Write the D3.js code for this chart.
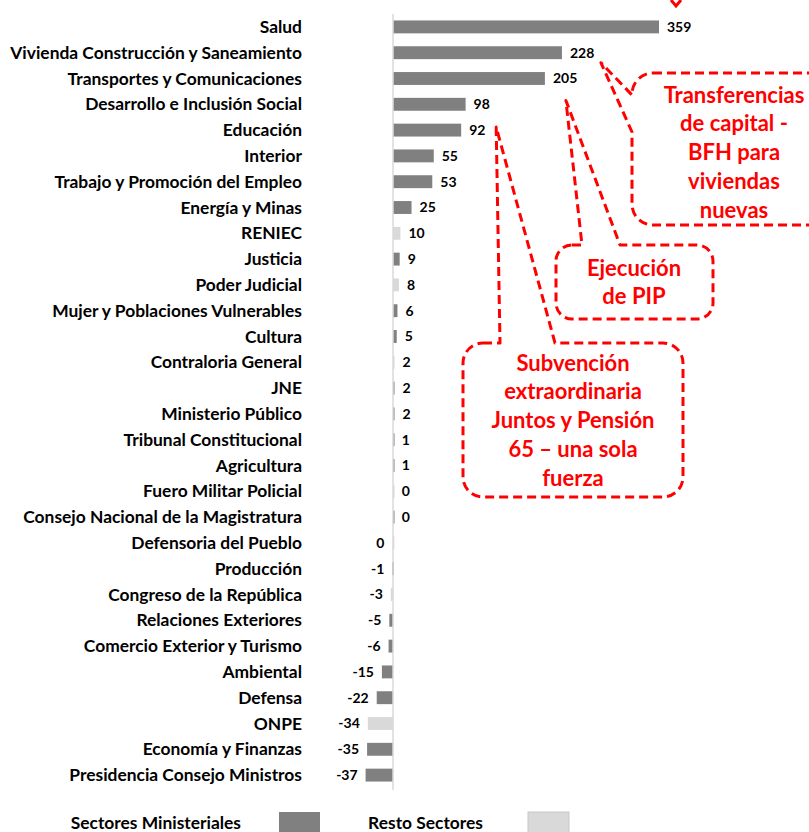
<!DOCTYPE html>
<html>
<head>
<meta charset="utf-8">
<script src="https://cdn.jsdelivr.net/npm/d3@7"></script>
<style>
  body { margin: 0; background: #fff; }
  svg { display: block; font-family: Lato, "Open Sans", sans-serif; }
</style>
</head>
<body>
<svg id="chart" width="809" height="832"></svg>
<script>
// sectores, en el orden del grafico
var sectores = [
  "Salud", "Vivienda Construcción y Saneamiento", "Transportes y Comunicaciones",
  "Desarrollo e Inclusión Social", "Educación", "Interior",
  "Trabajo y Promoción del Empleo", "Energía y Minas", "RENIEC", "Justicia",
  "Poder Judicial", "Mujer y Poblaciones Vulnerables", "Cultura",
  "Contraloria General", "JNE", "Ministerio Público", "Tribunal Constitucional",
  "Agricultura", "Fuero Militar Policial", "Consejo Nacional de la Magistratura",
  "Defensoria del Pueblo", "Producción", "Congreso de la República",
  "Relaciones Exteriores", "Comercio Exterior y Turismo", "Ambiental", "Defensa",
  "ONPE", "Economía y Finanzas", "Presidencia Consejo Ministros"];

// variacion (millones de soles)
var valores = [359, 228, 205, 98, 92, 55, 53, 25, 10, 9, 8, 6, 5, 2, 2, 2, 1, 1,
  0.4, 0.4, -0.3, -1, -3, -5, -6, -15, -22, -34, -35, -37];

// M = sector ministerial, R = resto de sectores
var tipos = ["M","M","M","M","M","M","M","M","R","M","R","M","M","R","M","M","M","M",
  "R","M","R","M","R","M","M","M","M","R","M","M"];

var leyenda = ["Sectores Ministeriales", "Resto Sectores"];

var colores = {M: "#808080", R: "#d9d9d9"};
var rojo = "#ff0000";

var data = sectores.map(function(s, i){
  return {name: s, value: valores[i], tipo: tipos[i]};
});

var svg = d3.select("#chart");

var x = d3.scaleLinear()
    .domain([-37, 359])
    .range([365.6, 659]);

var y = d3.scaleBand()
    .domain(sectores)
    .range([14, 788])
    .paddingInner(0.5)
    .paddingOuter(0.25);

// barras
svg.selectAll(".bar")
  .data(data)
 .enter().append("rect")
  .attr("class", "bar")
  .attr("x", d => x(Math.min(0, d.value)))
  .attr("y", d => y(d.name))
  .attr("width", d => Math.max(1.5, Math.abs(x(d.value) - x(0))))
  .attr("height", y.bandwidth())
  .attr("fill", d => colores[d.tipo]);

// linea del cero
svg.append("line")
  .attr("x1", x(0)).attr("x2", x(0))
  .attr("y1", 14).attr("y2", 790)
  .attr("stroke", "#d9d9d9")
  .attr("stroke-width", 1.5);

// etiquetas de categoria
svg.selectAll(".cat")
  .data(data)
 .enter().append("text")
  .attr("class", "cat")
  .attr("x", 302)
  .attr("y", d => y(d.name) + y.bandwidth() / 2)
  .attr("dy", "0.35em")
  .attr("text-anchor", "end")
  .attr("font-size", "17.4px")
  .attr("font-weight", "bold")
  .attr("fill", "#000")
  .text(d => d.name);

// etiquetas de valor
svg.selectAll(".val")
  .data(data)
 .enter().append("text")
  .attr("class", "val")
  .attr("x", d => d.value >= 0 ? x(Math.max(d.value, 1)) + 8 : x(Math.min(d.value, -1)) - 8)
  .attr("y", d => y(d.name) + y.bandwidth() / 2)
  .attr("dy", "0.35em")
  .attr("text-anchor", d => d.value >= 0 ? "start" : "end")
  .attr("font-size", "14px")
  .attr("font-weight", "bold")
  .attr("fill", "#000")
  .text(d => String(Math.round(d.value)));

// globos de comentario
function rowY(name){ return y(name) + y.bandwidth() / 2; }

function globo(b){
  var r = b.r, p = d3.path();
  if (b.side === "left") {
    p.moveTo(b.x0 + r, b.y0);
    p.lineTo(b.x1, b.y0);
    p.lineTo(b.x1, b.y1);
    p.lineTo(b.x0 + r, b.y1);
    p.arcTo(b.x0, b.y1, b.x0, b.y1 - r, r);
    p.lineTo(b.x0, b.base[1]);
    p.lineTo(b.tip[0], b.tip[1]);
    p.lineTo(b.x0, b.base[0]);
    p.arcTo(b.x0, b.y0, b.x0 + r, b.y0, r);
  } else {
    p.moveTo(b.x0 + r, b.y0);
    p.lineTo(b.base[0], b.y0);
    p.lineTo(b.tip[0], b.tip[1]);
    p.lineTo(b.base[1], b.y0);
    p.arcTo(b.x1, b.y0, b.x1, b.y0 + r, r);
    p.arcTo(b.x1, b.y1, b.x1 - r, b.y1, r);
    p.arcTo(b.x0, b.y1, b.x0, b.y1 - r, r);
    p.arcTo(b.x0, b.y0, b.x0 + r, b.y0, r);
  }
  p.closePath();
  return p.toString();
}

var globos = [
  {x0: 632, x1: 840, y0: 73, y1: 225, r: 21, side: "left", base: [95, 132],
   tip: [x(228) + 39, rowY("Vivienda Construcción y Saneamiento") + 10],
   cx: 734, ty: 95,
   lines: ["Transferencias", "de capital  -", "BFH para", "viviendas", "nuevas"]},
  {x0: 556, x1: 713, y0: 245, y1: 319, r: 16, side: "top", base: [582, 620],
   tip: [x(205) + 21, rowY("Transportes y Comunicaciones") + 22],
   cx: 634, ty: 268,
   lines: ["Ejecución", "de PIP"]},
  {x0: 463, x1: 683, y0: 343, y1: 497, r: 20, side: "top", base: [500, 555],
   tip: [x(92) + 35, rowY("Educación") - 3],
   cx: 573, ty: 363,
   lines: ["Subvención", "extraordinaria", "Juntos y Pensión", "65 – una sola", "fuerza"]}
];

var gGlobos = svg.append("g").attr("class", "globos");

globos.forEach(function(b){
  gGlobos.append("path")
    .attr("d", globo(b))
    .attr("fill", "#fff")
    .attr("stroke", rojo)
    .attr("stroke-width", 3)
    .attr("stroke-dasharray", "9,5")
    .attr("stroke-linejoin", "round");
  gGlobos.selectAll(null)
    .data(b.lines)
   .enter().append("text")
    .attr("x", b.cx)
    .attr("y", (d, i) => b.ty + i * 28.7)
    .attr("dy", "0.35em")
    .attr("text-anchor", "middle")
    .attr("font-size", "22px")
    .attr("font-weight", "bold")
    .attr("fill", rojo)
    .text(d => d);
});

// punta de otro globo (cortado arriba)
svg.append("path")
  .attr("d", "M671,0 L676,6 L681,0")
  .attr("fill", "none")
  .attr("stroke", rojo)
  .attr("stroke-width", 3);

// leyenda
var leg = svg.append("g").attr("class", "legend");
var legPos = [{tx: 241, sx: 279}, {tx: 483, sx: 528}];
leg.selectAll("text")
  .data(leyenda)
 .enter().append("text")
  .attr("x", (d, i) => legPos[i].tx)
  .attr("y", 823)
  .attr("dy", "0.35em")
  .attr("text-anchor", "end")
  .attr("font-size", "17.4px")
  .attr("font-weight", "bold")
  .text(d => d);
leg.selectAll("rect")
  .data(["M", "R"])
 .enter().append("rect")
  .attr("x", (d, i) => legPos[i].sx)
  .attr("y", 812)
  .attr("width", 41)
  .attr("height", 24)
  .attr("fill", d => colores[d])
  .attr("stroke", d => d === "R" ? "#c8c8c8" : "none");
</script>
</body>
</html>
